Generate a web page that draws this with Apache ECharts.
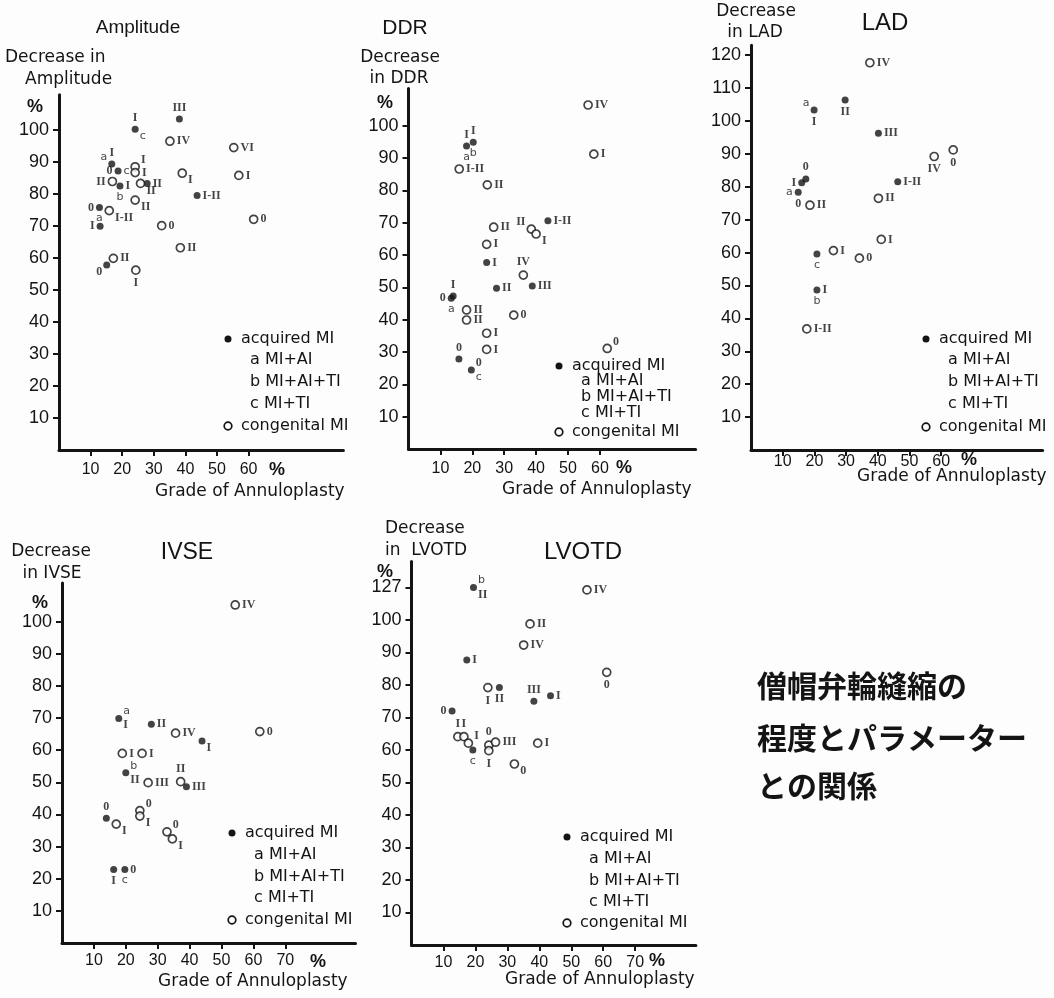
<!DOCTYPE html>
<html>
<head>
<meta charset="utf-8">
<title>僧帽弁輪縫縮の程度とパラメーターとの関係</title>
<script src="https://cdn.jsdelivr.net/npm/echarts@6/dist/echarts.min.js"></script>
<style>
  html, body { margin: 0; padding: 0; background: #fdfdfd; }
  #chart { width: 1054px; height: 998px; }
</style>
</head>
<body>
<div id="chart"></div>
<script>
// ---------------------------------------------------------------
// Data: each point is [grade of annuloplasty %, decrease %]
// "Grade" = severity grade of the lesion, "Type" = a/b/c subgroup
// ---------------------------------------------------------------

// Amplitude
const ampAcquired = [[38.1,103.4],[24.1,100.2],[16.7,89.4],[18.7,87.2],[19.3,82.5],[27.9,83.3],[43.7,79.5],[12.8,75.8],[13.0,69.9],[15.1,57.8]];
const ampAcquiredGrade = ['III','I','I','0','I','II','I-II','0','I','0'];
const ampAcquiredType  = ['','c','a','c','b','','','a','',''];
const ampCongenital = [[35.1,96.5],[55.3,94.5],[24.1,88.5],[24.1,86.7],[16.9,83.9],[25.8,83.3],[39.0,86.5],[56.9,85.8],[24.1,78.1],[15.9,74.8],[32.5,70.1],[61.6,72.1],[38.4,63.2],[17.2,59.9],[24.3,56.2]];
const ampCongenitalGrade = ['IV','VI','I','I','II','II','I','I','II','I-II','0','0','II','II','I'];

// DDR
const ddrAcquired = [[18.2,93.7],[20.3,94.9],[43.7,70.6],[24.5,57.7],[27.6,49.7],[38.8,50.4],[14.0,47.3],[13.4,46.6],[15.8,27.8],[19.7,24.4]];
const ddrAcquiredGrade = ['I','I','I-II','I','II','III','I','0','0','0'];
const ddrAcquiredType  = ['a','b','','','','','','a','','c'];
const ddrCongenital = [[56.3,106.4],[58.1,91.2],[15.9,86.6],[24.7,81.7],[26.7,68.6],[38.5,68.0],[40.0,66.5],[24.5,63.3],[36.0,53.8],[18.2,43.0],[18.2,39.9],[33.0,41.4],[24.5,35.8],[24.5,30.8],[62.3,31.1]];
const ddrCongenitalGrade = ['IV','I','I-II','II','II','II','I','I','IV','II','II','0','I','I','0'];

// LAD
const ladAcquired = [[19.9,103.3],[29.7,106.4],[40.2,96.3],[17.3,82.4],[16.0,81.2],[14.9,78.3],[46.3,81.5],[20.8,59.6],[20.8,48.6]];
const ladAcquiredGrade = ['I','II','III','0','I','0','I-II','','I'];
const ladAcquiredType  = ['a','','','','','a','','c','b'];
const ladCongenital = [[37.5,117.7],[57.8,89.2],[63.8,91.2],[40.2,76.5],[18.6,74.4],[41.1,64.0],[26.0,60.6],[34.2,58.3],[17.6,36.8]];
const ladCongenitalGrade = ['IV','IV','0','II','II','I','I','0','I-II'];

// IVSE
const ivseAcquired = [[17.8,69.9],[28.0,68.1],[43.9,62.9],[20.0,53.0],[39.0,48.6],[13.9,38.8],[16.2,22.9],[19.7,22.9]];
const ivseAcquiredGrade = ['I','II','I','II','III','0','I','0'];
const ivseAcquiredType  = ['a','','','b','','','','c'];
const ivseCongenital = [[54.3,105.2],[35.6,65.3],[62.0,65.8],[18.9,59.0],[25.1,59.0],[27.0,49.9],[37.2,50.2],[24.4,41.2],[24.4,39.5],[17.0,37.0],[32.9,34.6],[34.6,32.4]];
const ivseCongenitalGrade = ['IV','IV','0','I','I','III','II','0','I','I','0','I'];

// LVOTD (the axis is broken above 100: the next tick stands for 127)
const lvotdAcquired = [[19.4,127],[17.3,87.7],[27.5,79.2],[38.3,75.0],[43.5,76.7],[12.7,72.0],[19.2,60.0]];
const lvotdAcquiredGrade = ['II','I','II','III','I','0',''];
const lvotdAcquiredType  = ['b','','','','','','c'];
const lvotdCongenital = [[54.9,125],[37.1,98.8],[35.1,92.3],[61.1,83.9],[23.9,79.2],[14.5,64.1],[16.4,64.1],[17.8,62.1],[24.2,61.5],[24.2,59.8],[26.3,62.4],[39.5,62.1],[32.2,55.7]];
const lvotdCongenitalGrade = ['IV','II','IV','0','I','I','I','I','0','I','III','I','0'];

// Tick labels
const yTicks100 = [10,20,30,40,50,60,70,80,90,100];
const yTicks120 = [10,20,30,40,50,60,70,80,90,100,110,120];
const yTicksLvotd = [10,20,30,40,50,60,70,80,90,100,110];
const lvotdBreakLabel = '127';
const xTicks60 = [10,20,30,40,50,60];
const xTicks70 = [10,20,30,40,50,60,70];

// Legend and caption text
const legendLines = ['acquired MI', 'a MI+AI', 'b MI+AI+TI', 'c MI+TI', 'congenital MI'];
const captionLines = ['僧帽弁輪縫縮の', '程度とパラメーター', 'との関係'];

// ---------------------------------------------------------------
// Label placement per point: "gradeSide|typeSide"
// ---------------------------------------------------------------
const ampAcquiredPlace  = ['t','t|br','t|tl','l|r','r|b','r','r','l|b','l','bl'];
const ampCongenitalPlace = ['r','r','tr','r','l','br','br','r','br','br','r','r','r','r','b'];
const ddrAcquiredPlace  = ['t|b','t|b','r','r','r','r','t','l|b','t','tr|br'];
const ddrCongenitalPlace = ['r','r','r','r','r','tl','br','r','t','r','r','r','r','r','tr'];
const ladAcquiredPlace  = ['b|tl','b','r','t','l','b|l','r','|b','r|b'];
const ladCongenitalPlace = ['r','b','b','r','r','r','r','r','r'];
const ivseAcquiredPlace = ['br|tr','r','br','br|tr','r','t','b','r|b'];
const ivseCongenitalPlace = ['r','r','r','r','r','r','t','tr','br','br','tr','br'];
const lvotdAcquiredPlace = ['br|tr','r','b','t','r','l','|b'];
const lvotdCongenitalPlace = ['r','r','r','b','b','t','t','tr','t','b','r','r','br'];

// ---------------------------------------------------------------
// Styling
// ---------------------------------------------------------------
const INK = '#141414';
const NUM_FONT = 'Liberation Sans';
const WORD_FONT = 'DejaVu Sans';
const GRADE_FONT = { fontFamily: 'Liberation Serif', fontWeight: 'bold', fontSize: 12 };
const TYPE_FONT = { fontFamily: 'DejaVu Sans', fontSize: 11 };

const PLACE = {
  r:  { position: 'right', offset: [0, 0] },
  l:  { position: 'left', offset: [0, 0] },
  t:  { position: 'top', offset: [0, 0] },
  b:  { position: 'bottom', offset: [0, 0] },
  tr: { position: 'right', offset: [-1, -7] },
  br: { position: 'right', offset: [-1, 7] },
  tl: { position: 'left', offset: [1, -7] },
  bl: { position: 'left', offset: [1, 7] }
};

function breakLvotd(v) {
  // compress 100..127 into one tick step (100..110)
  return v > 100 ? 100 + (v - 100) * 10 / 27 : v;
}

const PANELS = [
  { grid: { left: 59, top: 94.8, width: 284.4, height: 355.2 }, xMax: 90, yMax: 111,
    xTicks: xTicks60, yTicks: yTicks100, xMargin: 12,
    acq: ampAcquired, acqGrade: ampAcquiredGrade, acqType: ampAcquiredType, acqPlace: ampAcquiredPlace,
    con: ampCongenital, conGrade: ampCongenitalGrade, conPlace: ampCongenitalPlace },
  { grid: { left: 408.5, top: 88.5, width: 287.1, height: 360.5 }, xMax: 90, yMax: 111.5,
    xTicks: xTicks60, yTicks: yTicks100, xMargin: 12,
    acq: ddrAcquired, acqGrade: ddrAcquiredGrade, acqType: ddrAcquiredType, acqPlace: ddrAcquiredPlace,
    con: ddrCongenital, conGrade: ddrCongenitalGrade, conPlace: ddrCongenitalPlace },
  { grid: { left: 751, top: 45.3, width: 291.6, height: 404.7 }, xMax: 92, yMax: 123,
    xTicks: xTicks60, yTicks: yTicks120, xMargin: 4,
    acq: ladAcquired, acqGrade: ladAcquiredGrade, acqType: ladAcquiredType, acqPlace: ladAcquiredPlace,
    con: ladCongenital, conGrade: ladCongenitalGrade, conPlace: ladCongenitalPlace },
  { grid: { left: 62, top: 583.1, width: 293.5, height: 359.9 }, xMax: 92, yMax: 112,
    xTicks: xTicks70, yTicks: yTicks100, xMargin: 10,
    acq: ivseAcquired, acqGrade: ivseAcquiredGrade, acqType: ivseAcquiredType, acqPlace: ivseAcquiredPlace,
    con: ivseCongenital, conGrade: ivseCongenitalGrade, conPlace: ivseCongenitalPlace },
  { grid: { left: 411.5, top: 561.5, width: 284.4, height: 383.5 }, xMax: 89, yMax: 118,
    xTicks: xTicks70, yTicks: yTicksLvotd, xMargin: 10, yMap: breakLvotd,
    yFormat: v => (v === 110 ? lvotdBreakLabel : String(v)),
    acq: lvotdAcquired, acqGrade: lvotdAcquiredGrade, acqType: lvotdAcquiredType, acqPlace: lvotdAcquiredPlace,
    con: lvotdCongenital, conGrade: lvotdCongenitalGrade, conPlace: lvotdCongenitalPlace }
];

function labelFor(text, code, font) {
  const p = PLACE[code] || PLACE.r;
  return Object.assign({ show: !!text, formatter: text || '', distance: 2, color: INK }, font, p);
}

function groupSeries(gi, pts, grades, types, places, filled, yMap) {
  const toVal = p => [p[0], yMap ? yMap(p[1]) : p[1]];
  const marks = pts.map((p, i) => {
    const gSide = (places[i] || 'r').split('|')[0];
    return { value: toVal(p), label: labelFor(grades[i], gSide, GRADE_FONT) };
  });
  const out = [{
    type: 'scatter', xAxisIndex: gi, yAxisIndex: gi, symbol: 'circle',
    symbolSize: filled ? 7 : 8,
    itemStyle: filled ? { color: INK } : { color: '#fdfdfd', borderColor: INK, borderWidth: 1.7 },
    data: marks, z: filled ? 3 : 4, silent: true
  }];
  if (types) {
    const extra = [];
    pts.forEach((p, i) => {
      if (types[i]) {
        const tSide = (places[i] || '').split('|')[1] || 'b';
        extra.push({ value: toVal(p), label: labelFor(types[i], tSide, TYPE_FONT) });
      }
    });
    out.push({
      type: 'scatter', xAxisIndex: gi, yAxisIndex: gi, symbol: 'circle', symbolSize: 7,
      itemStyle: { color: 'rgba(0,0,0,0)' }, data: extra, z: 5, silent: true
    });
  }
  return out;
}

const grids = [], xAxes = [], yAxes = [], series = [];
PANELS.forEach((P, gi) => {
  grids.push(Object.assign({ containLabel: false, outerBoundsMode: 'none' }, P.grid));
  xAxes.push({
    type: 'value', gridIndex: gi, min: 0, max: P.xMax, interval: 10,
    axisLine: { show: true, onZero: false, lineStyle: { color: INK, width: 3 } },
    axisTick: { show: true, customValues: P.xTicks, length: 6, lineStyle: { color: INK, width: 2 } },
    axisLabel: { show: true, customValues: P.xTicks, margin: P.xMargin, color: INK,
                 fontFamily: NUM_FONT, fontSize: 16 },
    splitLine: { show: false }
  });
  yAxes.push({
    type: 'value', gridIndex: gi, min: 0, max: P.yMax, interval: 10,
    axisLine: { show: true, onZero: false, lineStyle: { color: INK, width: 3 } },
    axisTick: { show: true, customValues: P.yTicks, length: 6, lineStyle: { color: INK, width: 2 } },
    axisLabel: { show: true, customValues: P.yTicks, margin: 10, color: INK,
                 fontFamily: NUM_FONT, fontSize: 18, formatter: P.yFormat || (v => String(v)) },
    splitLine: { show: false }
  });
  series.push(...groupSeries(gi, P.acq, P.acqGrade, P.acqType, P.acqPlace, true, P.yMap));
  series.push(...groupSeries(gi, P.con, P.conGrade, null, P.conPlace, false, P.yMap));
});

// ---------------------------------------------------------------
// Text furniture: titles, axis names, % signs, legends, caption
// ---------------------------------------------------------------
const graphic = [];
function txt(text, x, y, opts) {
  const o = opts || {};
  graphic.push({
    type: 'text', x, y, silent: true, z: 10,
    style: {
      text, fill: INK, align: o.align || 'left', verticalAlign: 'middle',
      fontFamily: o.family || WORD_FONT, fontSize: o.size || 17, fontWeight: o.weight || 'normal'
    }
  });
}
function dot(cx, cy, filled) {
  graphic.push({
    type: 'circle', silent: true, z: 10, shape: { cx, cy, r: filled ? 3.5 : 3.8 },
    style: filled ? { fill: INK } : { fill: '#fdfdfd', stroke: INK, lineWidth: 1.7 }
  });
}

// panel titles
txt('Amplitude', 138, 28, { align: 'center', family: NUM_FONT, size: 19 });
txt('DDR', 405, 28, { align: 'center', family: NUM_FONT, size: 21 });
txt('LAD', 885, 23, { align: 'center', family: NUM_FONT, size: 24 });
txt('IVSE', 187, 553, { align: 'center', family: NUM_FONT, size: 23 });
txt('LVOTD', 583, 552, { align: 'center', family: NUM_FONT, size: 24 });

// y axis names
txt('Decrease in', 5, 58);
txt('Amplitude', 25, 80);
txt('Decrease', 400, 58, { align: 'center' });
txt('in DDR', 399, 79, { align: 'center' });
txt('Decrease', 756, 12, { align: 'center' });
txt('in LAD', 755, 33, { align: 'center' });
txt('Decrease', 51, 552, { align: 'center' });
txt('in IVSE', 52, 574, { align: 'center' });
txt('Decrease', 385, 529);
txt('in  LVOTD', 385, 551);

// x axis names
txt('Grade of Annuloplasty', 155, 492);
txt('Grade of Annuloplasty', 502, 490);
txt('Grade of Annuloplasty', 857, 477);
txt('Grade of Annuloplasty', 158, 982);
txt('Grade of Annuloplasty', 505, 980);

// % units
const pct = { align: 'center', family: NUM_FONT, size: 18, weight: 'bold' };
txt('%', 35, 107, pct);  txt('%', 277, 470, pct);
txt('%', 385, 103, pct); txt('%', 624, 468, pct);
txt('%', 969, 460, pct);
txt('%', 40, 603, pct);  txt('%', 318, 962, pct);
txt('%', 385, 572, pct); txt('%', 657, 961, pct);

// legends: [dot x, row y positions]
const LEGENDS = [
  [228, [339, 360, 382, 404, 426]],
  [559, [366, 381, 397, 413, 432]],
  [926, [339, 360, 382, 404, 427]],
  [232, [833, 855, 877, 898, 920]],
  [567, [837, 859, 881, 902, 923]]
];
LEGENDS.forEach(([lx, rows]) => {
  dot(lx, rows[0], true);
  txt(legendLines[0], lx + 13, rows[0], { size: 16 });
  for (let k = 1; k <= 3; k++) txt(legendLines[k], lx + 22, rows[k], { size: 16 });
  dot(lx, rows[4], false);
  txt(legendLines[4], lx + 13, rows[4], { size: 16 });
});

// caption
const capRows = [686, 738, 786];
captionLines.forEach((line, i) => {
  txt(line, 757, capRows[i], { family: 'Noto Sans CJK JP', size: 30, weight: 'bold' });
});

const chart = echarts.init(document.getElementById('chart'), null, { renderer: 'canvas' });
chart.setOption({
  backgroundColor: '#fdfdfd',
  animation: false,
  grid: grids,
  xAxis: xAxes,
  yAxis: yAxes,
  series: series,
  graphic: graphic
});
</script>
</body>
</html>
